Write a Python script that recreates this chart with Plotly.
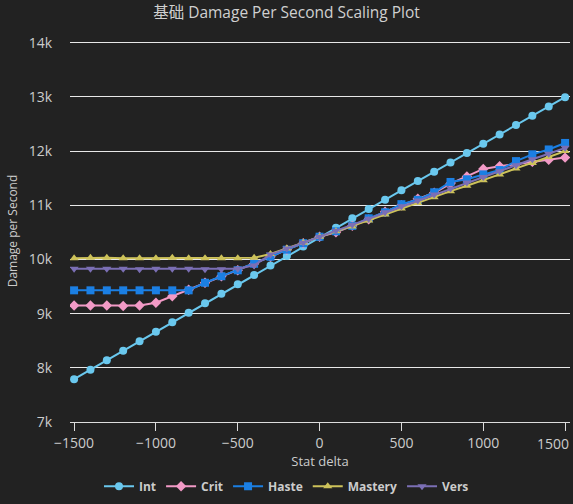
import plotly.graph_objects as go

stat_delta = [-1500, -1400, -1300, -1200, -1100, -1000, -900, -800, -700, -600, -500, -400, -300, -200, -100, 0,
              100, 200, 300, 400, 500, 600, 700, 800, 900, 1000, 1100, 1200, 1300, 1400, 1500]
x_ticks = [-1500, -1000, -500, 0, 500, 1000, 1500]
x_tick_labels = ["−1500", "−1000", "−500", "0", "500", "1000", "1500"]

int_dps = [7790, 7965, 8140, 8315, 8490, 8665, 8840, 9015, 9190, 9365, 9540, 9715, 9890, 10065, 10240, 10415,
           10587, 10759, 10931, 11103, 11275, 11447, 11619, 11791, 11963, 12135, 12307, 12479, 12651, 12823, 12995]
crit_dps = [9150, 9150, 9150, 9140, 9150, 9200, 9320, 9440, 9570, 9690, 9800, 9920, 10050, 10180, 10300, 10420,
            10500, 10620, 10740, 10880, 11000, 11120, 11230, 11400, 11530, 11670, 11720, 11760, 11800, 11840, 11880]
haste_dps = [9430, 9430, 9430, 9430, 9430, 9430, 9430, 9430, 9570, 9690, 9800, 9920, 10050, 10180, 10300, 10420,
             10520, 10620, 10760, 10870, 11020, 11100, 11240, 11430, 11480, 11570, 11650, 11815, 11940, 12030, 12150]
mastery_dps = [10020, 10030, 10030, 10020, 10020, 10020, 10030, 10020, 10020, 10020, 10020, 10030, 10100, 10200, 10310, 10420,
               10520, 10610, 10720, 10830, 10940, 11040, 11150, 11260, 11360, 11460, 11570, 11680, 11780, 11890, 12000]
vers_dps = [9830, 9830, 9830, 9830, 9820, 9830, 9830, 9830, 9820, 9820, 9830, 9890, 10090, 10200, 10310, 10420,
            10530, 10640, 10750, 10870, 10980, 11090, 11200, 11310, 11420, 11520, 11630, 11740, 11850, 11950, 12060]

series = [
    ("Int", int_dps, "#6ac8ee", "circle"),
    ("Crit", crit_dps, "#f29ac6", "diamond"),
    ("Haste", haste_dps, "#1b7fe3", "square"),
    ("Mastery", mastery_dps, "#cdc25a", "triangle-up"),
    ("Vers", vers_dps, "#7b6fb5", "triangle-down"),
]

fig = go.Figure()
for name, vals, color, sym in series:
    fig.add_trace(go.Scatter(
        x=stat_delta, y=vals, name=name, mode="lines+markers",
        line=dict(color=color, width=2),
        marker=dict(color=color, symbol=sym, size=8),
    ))

font_main = "Open Sans, Noto Sans CJK SC, sans-serif"
tick_font = dict(family=font_main, size=14, color="#cccccc")

# last tick label is pulled inside the chart edge, as in the reference
fig.add_annotation(x=x_ticks[-1], xref="x", y=0, yref="paper", text=x_tick_labels[-1],
                   showarrow=False, xanchor="right", yanchor="middle", xshift=6, yshift=-21,
                   font=tick_font)

fig.update_layout(
    width=573, height=504,
    paper_bgcolor="#222222", plot_bgcolor="#222222",
    margin=dict(l=70, r=3, t=40, b=80),
    title=dict(text="基础 Damage Per Second Scaling Plot", x=0.5, xanchor="center",
               y=0.976, yanchor="middle",
               font=dict(family=font_main, size=15.5, color="#d0d0d0")),
    font=dict(family=font_main, color="#cccccc"),
    showlegend=True,
    legend=dict(orientation="h", x=0.433, xanchor="center", y=-0.168, yanchor="middle",
                font=dict(size=12, color="#cccccc", weight="bold"),
                bgcolor="rgba(0,0,0,0)", itemwidth=30, tracegroupgap=0),
    xaxis=dict(range=[-1525, 1530], tickvals=x_ticks,
               ticktext=x_tick_labels[:-1] + [""],
               showgrid=False, zeroline=False, showline=True, linecolor="#dddddd", linewidth=1,
               ticks="outside", ticklen=8, tickcolor="#dddddd",
               tickfont=tick_font,
               title=dict(text="Stat delta", font=dict(size=13, color="#cccccc"), standoff=6)),
    yaxis=dict(range=[7000, 14050], dtick=1000, tickformat="~s",
               showgrid=True, gridcolor="#e8e8e8", gridwidth=1, zeroline=False, showline=False,
               ticks="outside", ticklen=14, tickcolor="rgba(0,0,0,0)",
               tickfont=tick_font,
               title=dict(text="Damage per Second", font=dict(size=12, color="#cccccc"), standoff=8)),
)

fig.write_html("out.html", config={"displayModeBar": False},
               post_script="document.body.style.margin='0px';")
